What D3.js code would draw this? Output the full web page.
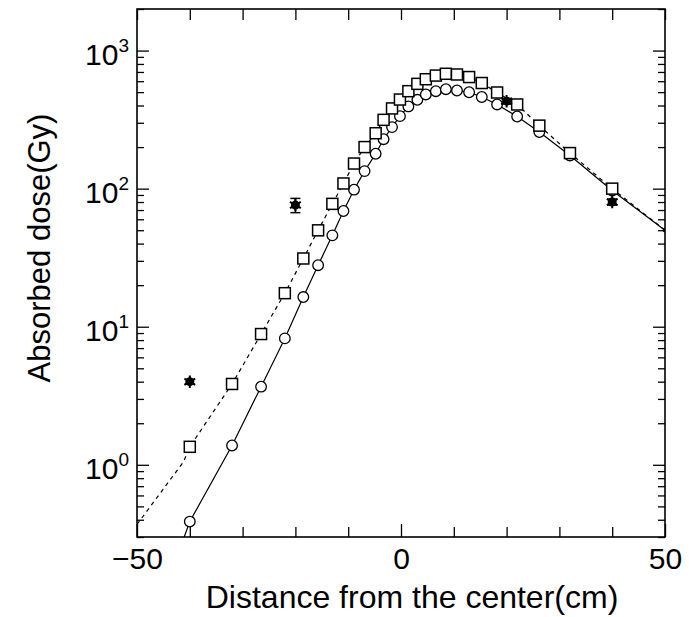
<!DOCTYPE html>
<html><head><meta charset="utf-8">
<script src="https://cdn.jsdelivr.net/npm/d3@7"></script>
<style>body{margin:0;background:#fff}</style>
</head><body>
<svg id="c" width="689" height="617"></svg>
<script>
// ---- data ----
const xTicksMajor = [-50, 0, 50];
const xTicksMinor = [-40, -30, -20, -10, 10, 20, 30, 40];
const yTicksMajor = [1, 10, 100, 1000];
const positions = [-40, -32, -26.5, -22, -18.5, -15.7, -13, -10.9, -8.9, -6.9, -4.8, -3.3, -1.7, -0.2, 1.4, 3.1, 4.7, 6.6, 8.5, 10.6, 12.9, 15.3, 18.2, 22, 26.2, 32, 40];
const squareDose = [1.35, 3.85, 8.85, 17.5, 31.2, 49.9, 77.6, 109, 152, 200, 252, 315, 381, 442, 508, 574, 620, 659, 679, 671, 643, 582, 497, 407, 286, 181, 100];
const circleDose = [0.388, 1.38, 3.68, 8.23, 16.4, 27.9, 45.9, 68.9, 98.3, 134, 179, 228, 279, 335, 394, 440, 481, 508, 525, 514, 499, 461, 407, 333, 257, 174, 97];
const dashedLeadX = [-50, -41.2];
const dashedLeadY = [0.37, 1.05];
const solidLeadX = [-41.5];
const solidLeadY = [0.27];
const tailX = [50];
const tailY = [50];
const measPos = [-40, -20, 20, 40];
const measDose = [4.0, 76, 430, 80];
const measErr = [0.15, 9, 20, 4];

// ---- chart ----
const FONT = "'Liberation Sans', Arial, Helvetica, sans-serif";
const svg = d3.select("#c").style("font-family", FONT);
const L = 137, R = 665, T = 9, B = 537;
const x = d3.scaleLinear().domain([-50, 50]).range([L, R]);
const y = d3.scaleLog().domain([0.3, 2000]).range([B, T]);

svg.append("defs").append("clipPath").attr("id", "clip")
  .append("rect").attr("x", L).attr("y", T).attr("width", R - L).attr("height", B - T);

const yMinor = y.ticks().filter(v => !yTicksMajor.includes(v));

function clean(g) { g.select(".domain").remove(); g.selectAll("line").attr("stroke", "#000").attr("stroke-width", 1.3); }

// bottom
svg.append("g").attr("transform", `translate(0,${B})`)
  .call(d3.axisBottom(x).tickValues(xTicksMajor).tickSize(-13).tickPadding(11)
    .tickFormat(d => d < 0 ? "\u2212" + Math.abs(d) : String(d)))
  .call(clean)
  .call(g => g.selectAll("text").attr("font-size", 30).attr("font-family", FONT).attr("fill", "#000"));
svg.append("g").attr("transform", `translate(0,${B})`)
  .call(d3.axisBottom(x).tickValues(xTicksMinor).tickSize(-10).tickFormat(""))
  .call(clean);
// top
svg.append("g").attr("transform", `translate(0,${T})`)
  .call(d3.axisTop(x).tickValues(xTicksMajor.concat(xTicksMinor)).tickSize(-11).tickFormat(""))
  .call(clean);
// left / right
[[d3.axisLeft, L], [d3.axisRight, R]].forEach(([ax, pos]) => {
  svg.append("g").attr("transform", `translate(${pos},0)`)
    .call(ax(y).tickValues(yTicksMajor).tickSize(-12).tickFormat(""))
    .call(clean);
  svg.append("g").attr("transform", `translate(${pos},0)`)
    .call(ax(y).tickValues(yMinor).tickSize(-7).tickFormat(""))
    .call(clean);
});

// y tick labels 10^n
svg.selectAll("text.ylab").data(yTicksMajor).join("text")
  .attr("class", "ylab")
  .attr("x", L - 8).attr("y", d => y(d) + 14.5)
  .attr("text-anchor", "end").attr("font-size", 30).attr("fill", "#000")
  .each(function (d) {
    const t = d3.select(this);
    t.append("tspan").text("10");
    t.append("tspan").attr("dy", -13).attr("font-size", 19).text(Math.round(Math.log10(d)));
  });

// frame
svg.append("rect").attr("x", L).attr("y", T).attr("width", R - L).attr("height", B - T)
  .attr("fill", "none").attr("stroke", "#000").attr("stroke-width", 1.6);

// axis titles
svg.append("text").attr("x", 412).attr("y", 608).attr("text-anchor", "middle")
  .attr("font-size", 32).attr("fill", "#000").text("Distance from the center(cm)");
svg.append("text").attr("transform", "translate(50,248) rotate(-90)").attr("text-anchor", "middle")
  .attr("font-size", 31).attr("fill", "#000").text("Absorbed dose(Gy)");

// lines
const line = d3.line().x(d => x(d[0])).y(d => y(d[1]));
const sq = positions.map((p, i) => [p, squareDose[i]]);
const ci = positions.map((p, i) => [p, circleDose[i]]);
const tail = tailX.map((p, i) => [p, tailY[i]]);
const dashedData = dashedLeadX.map((p, i) => [p, dashedLeadY[i]]).concat(sq, tail);
const solidData = solidLeadX.map((p, i) => [p, solidLeadY[i]]).concat(ci, tail);
const plot = svg.append("g").attr("clip-path", "url(#clip)");
plot.append("path").datum(dashedData).attr("d", line).attr("fill", "none")
  .attr("stroke", "#000").attr("stroke-width", 1.2).attr("stroke-dasharray", "4,4");
plot.append("path").datum(solidData).attr("d", line).attr("fill", "none")
  .attr("stroke", "#000").attr("stroke-width", 1.2);
plot.selectAll("circle.end").data(tail).join("circle").attr("class", "end")
  .attr("cx", d => x(d[0])).attr("cy", d => y(d[1])).attr("r", 2.2).attr("fill", "#000");

// circles
plot.selectAll("circle.ci").data(ci).join("circle").attr("class", "ci")
  .attr("cx", d => x(d[0])).attr("cy", d => y(d[1])).attr("r", 5.3)
  .attr("fill", "#fff").attr("stroke", "#000").attr("stroke-width", 1.3);
// squares
plot.selectAll("rect.sq").data(sq).join("rect").attr("class", "sq")
  .attr("x", d => x(d[0]) - 5.5).attr("y", d => y(d[1]) - 5.5).attr("width", 11).attr("height", 11)
  .attr("fill", "#fff").attr("stroke", "#000").attr("stroke-width", 1.5);

// measured points with error bars
const meas = measPos.map((p, i) => ({ p, v: measDose[i], e: measErr[i] }));
const mg = plot.selectAll("g.m").data(meas).join("g").attr("class", "m");
mg.append("line").attr("x1", d => x(d.p)).attr("x2", d => x(d.p))
  .attr("y1", d => y(d.v + d.e)).attr("y2", d => y(d.v - d.e)).attr("stroke", "#000").attr("stroke-width", 1.5);
mg.append("line").attr("x1", d => x(d.p) - 5).attr("x2", d => x(d.p) + 5)
  .attr("y1", d => y(d.v + d.e)).attr("y2", d => y(d.v + d.e)).attr("stroke", "#000").attr("stroke-width", 1.5);
mg.append("line").attr("x1", d => x(d.p) - 5).attr("x2", d => x(d.p) + 5)
  .attr("y1", d => y(d.v - d.e)).attr("y2", d => y(d.v - d.e)).attr("stroke", "#000").attr("stroke-width", 1.5);
mg.append("path").attr("transform", d => `translate(${x(d.p)},${y(d.v)})`)
  .attr("d", d3.symbol(d3.symbolCircle, 64)()).attr("fill", "#000");
mg.append("path").attr("transform", d => `translate(${x(d.p)},${y(d.v)})`)
  .attr("d", d3.symbol(d3.symbolAsterisk, 110)()).attr("fill", "none").attr("stroke", "#000").attr("stroke-width", 2);
</script>
</body></html>
